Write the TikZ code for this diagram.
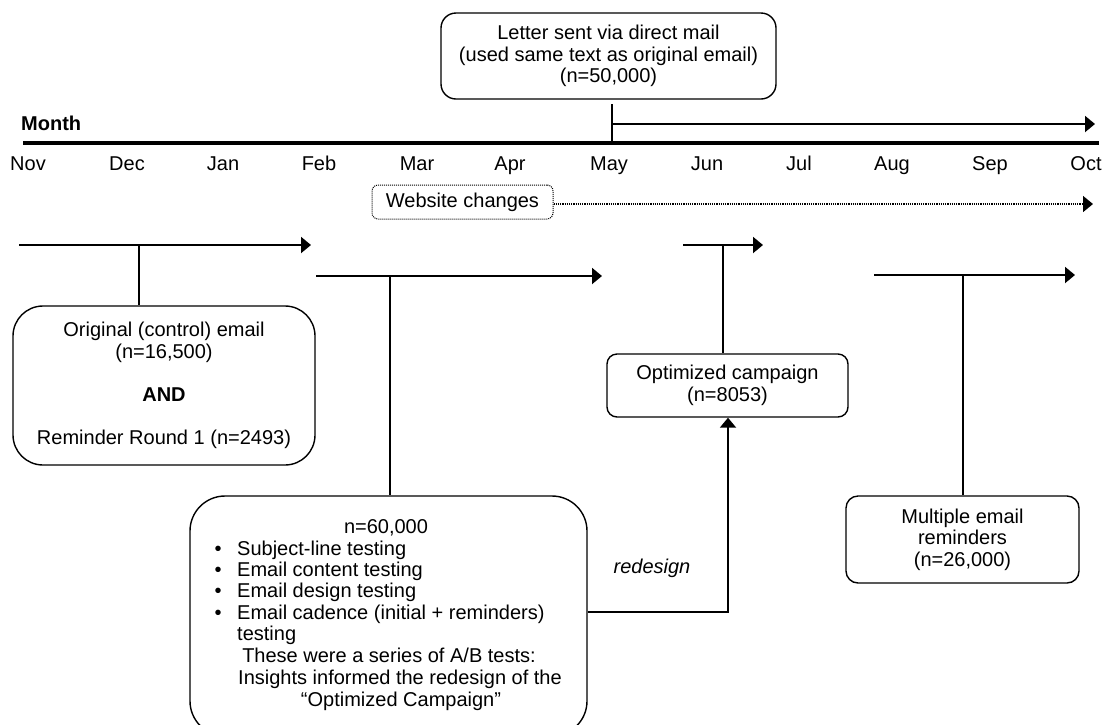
\documentclass[tikz,border=0pt]{standalone}
\usepackage{fontspec}
\setmainfont{Liberation Sans}
\usetikzlibrary{arrows.meta}
\begin{document}
\begin{tikzpicture}[x=1pt,y=-1pt,
  every node/.style={font=\fontsize{20}{21.5}\selectfont, inner sep=0pt},
  box/.style={draw, line width=1.4pt, rounded corners=#1, align=center},
  conn/.style={line width=1.5pt},
  tip/.style={-{Triangle[length=10pt,width=16pt]}},
  arr/.style={line width=2pt, tip},
  mlabel/.style={anchor=base},
  txt/.style={anchor=base},
  txtl/.style={anchor=base west}]
\clip (0,0) rectangle (1105,724);
\fill[white] (0,0) rectangle (1105,724);

% top letter box
\node[box=15pt, minimum width=335pt, minimum height=86pt] (letter) at (608.5,56)
  {Letter sent via direct mail\\(used same text as original email)\\(n=50,000)};

% axis
\node[txtl, font=\fontsize{20}{21.5}\selectfont\bfseries] (month) at (21,130) {Month};
\coordinate (ax0) at (23,143);
\coordinate (ax1) at (1099,143);
\draw[line width=4pt] (ax0) -- (ax1);
\coordinate (mayAx) at (612,143);
\coordinate (mayTop) at (612,104);
\coordinate (letEnd) at (1095,124);
\draw[line width=2pt] (mayTop) -- (mayAx);
\draw[arr] (mayTop |- letEnd) -- (letEnd);

\node[mlabel] (nov) at (28,170) {Nov};
\node[mlabel] (dec) at (127,170) {Dec};
\node[mlabel] (jan) at (223,170) {Jan};
\node[mlabel] (feb) at (319,170) {Feb};
\node[mlabel] (mar) at (417,170) {Mar};
\node[mlabel] (apr) at (510,170) {Apr};
\node[mlabel] (may) at (609,170) {May};
\node[mlabel] (jun) at (707,170) {Jun};
\node[mlabel] (jul) at (799,170) {Jul};
\node[mlabel] (aug) at (892,170) {Aug};
\node[mlabel] (sep) at (990,170) {Sep};
\node[mlabel] (oct) at (1086,170) {Oct};

% website changes
\node[box=6pt, line width=1pt, dash pattern=on 1pt off 1pt, minimum width=181pt, minimum height=34pt] (web) at (462.5,202) {Website changes};
\coordinate (webEnd) at (1093,204);
\draw[line width=1.5pt, dash pattern=on 1.2pt off 1pt, tip] (web.east |- webEnd) -- (webEnd);

% boxes
\node[box=30pt, minimum width=302pt, minimum height=159pt] (orig) at (164,385.5)
  {Original (control) email\\(n=16,500)\\[21.5pt]\textbf{AND}\\[21.5pt]Reminder Round 1 (n=2493)};
\node[box=35pt, minimum width=397pt, minimum height=240pt] (tests) at (388.5,616) {};
\node[box=10pt, minimum width=241pt, minimum height=63pt] (opt) at (727.5,385.5)
  {Optimized campaign\\(n=8053)};
\node[box=12pt, minimum width=233pt, minimum height=87pt] (multi) at (962.5,539.5)
  {Multiple email\\reminders\\(n=26,000)};

% text of test box
\node[txt] (t0) at (386,533) {n=60,000};
\node[txt] (b1) at (218,555) {•};
\node[txtl] (t1) at (237,555) {Subject-line testing};
\node[txt] (b2) at (218,576) {•};
\node[txtl] (t2) at (237,576) {Email content testing};
\node[txt] (b3) at (218,597) {•};
\node[txtl] (t3) at (237,597) {Email design testing};
\node[txt] (b4) at (218,619) {•};
\node[txtl] (t4) at (237,619) {Email cadence (initial + reminders)};
\node[txtl] (t5) at (237,640) {testing};
\node[txt] (t6) at (389,662) {These were a series of A/B tests:};
\node[txt] (t7) at (400,684) {Insights informed the redesign of the};
\node[txt] (t8) at (401,706) {“Optimized Campaign”};

% timeline arrows
\coordinate (a1s) at (19,245);
\coordinate (a1e) at (311,245);
\coordinate (a1j) at (139,245);
\draw[arr] (a1s) -- (a1e);
\draw[conn] (a1j) -- (a1j |- orig.north);

\coordinate (a2s) at (316,276);
\coordinate (a2e) at (602,276);
\coordinate (a2j) at (390,276);
\draw[arr] (a2s) -- (a2e);
\draw[conn] (a2j) -- (a2j |- tests.north);

\coordinate (a3s) at (683,245);
\coordinate (a3e) at (763,245);
\coordinate (a3j) at (723,245);
\draw[arr] (a3s) -- (a3e);
\draw[conn] (a3j) -- (a3j |- opt.north);

\coordinate (a4s) at (874,275);
\coordinate (a4e) at (1075,275);
\coordinate (a4j) at (963,275);
\draw[arr] (a4s) -- (a4e);
\draw[conn] (a4j) -- (a4j |- multi.north);

% redesign
\coordinate (rd) at (728,612);
\draw[line width=2pt, tip] (tests.east |- rd) -- (rd) -- (opt.south -| rd);
\node[txt, font=\fontsize{20}{21.5}\selectfont\itshape] (redesign) at (652,573) {redesign};
\end{tikzpicture}
\end{document}
